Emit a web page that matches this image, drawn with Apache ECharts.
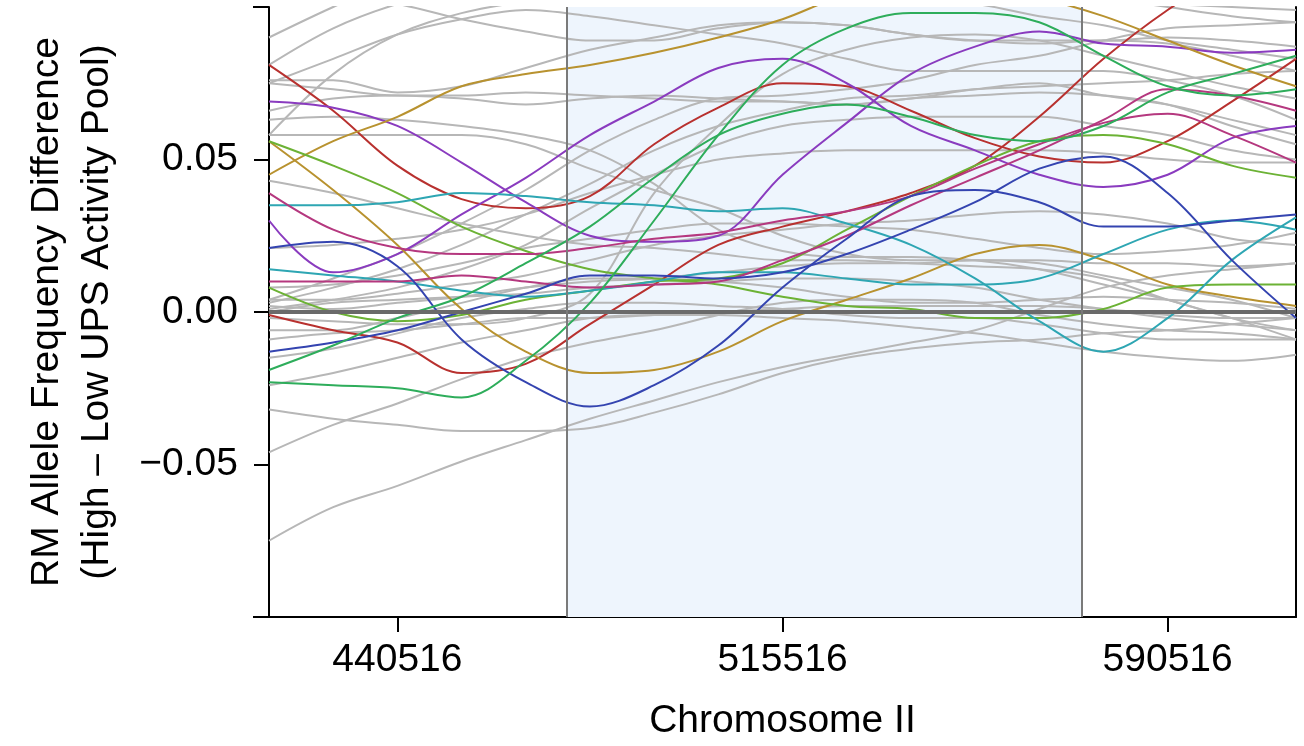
<!DOCTYPE html>
<html><head><meta charset="utf-8">
<script src="https://cdn.jsdelivr.net/npm/echarts@6/dist/echarts.min.js"></script>
<style>html,body{margin:0;padding:0;background:#fff}#c{width:1304px;height:746px}</style>
</head><body><div id="c"></div>
<script>
// Sample positions along Chromosome II (bp)
const positions = [415516, 428016, 440516, 453016, 465516, 478016, 490516, 503016, 515516, 528016, 540516, 553016, 565516, 578016, 590516, 603016, 615516];
const xTicks = [440516, 515516, 590516];
const yTicks = [-0.05, 0, 0.05];
const regionStart = 473549, regionEnd = 573841;

// Highlighted lines
const redA    = [0.081,0.066,0.048,0.037,0.034,0.038,0.055,0.067,0.075,0.074,0.066,0.057,0.051,0.049,0.056,0.069,0.083];
const redB    = [-0.001,-0.006,-0.010,-0.020,-0.017,-0.004,0.009,0.022,0.028,0.033,0.039,0.048,0.064,0.083,0.099,0.112,0.122];
const purpleA = [0.069,0.067,0.061,0.049,0.036,0.025,0.023,0.025,0.045,0.062,0.078,0.087,0.092,0.088,0.087,0.085,0.086];
const purpleB = [0.030,0.013,0.019,0.032,0.044,0.058,0.069,0.080,0.083,0.075,0.061,0.053,0.045,0.041,0.045,0.057,0.061];
const goldA   = [0.045,0.056,0.064,0.074,0.078,0.081,0.085,0.090,0.096,0.104,0.107,0.107,0.103,0.097,0.089,0.081,0.074];
const goldB   = [0.056,0.040,0.022,0.001,-0.013,-0.020,-0.019,-0.013,-0.003,0.004,0.011,0.019,0.022,0.017,0.009,0.005,0.002];
const limeA   = [0.056,0.048,0.039,0.028,0.020,0.014,0.011,0.009,0.005,0.002,0.001,-0.002,-0.002,0.001,0.008,0.009,0.009];
const limeB   = [0.008,0.000,-0.003,-0.001,0.004,0.007,0.010,0.011,0.016,0.027,0.038,0.048,0.056,0.058,0.055,0.048,0.044];
const tealA   = [0.035,0.035,0.036,0.039,0.038,0.036,0.035,0.033,0.034,0.029,0.022,0.011,-0.003,-0.013,-0.002,0.017,0.031];
const tealB   = [0.014,0.012,0.010,0.007,0.005,0.007,0.010,0.013,0.013,0.011,0.009,0.009,0.011,0.019,0.027,0.030,0.027];
const magentaA= [0.039,0.027,0.021,0.019,0.019,0.021,0.024,0.026,0.030,0.033,0.038,0.047,0.055,0.062,0.065,0.058,0.049];
const magentaB= [0.010,0.010,0.010,0.012,0.010,0.008,0.009,0.010,0.017,0.025,0.035,0.044,0.053,0.063,0.073,0.071,0.066];
const blueA   = [0.021,0.023,0.015,-0.009,-0.023,-0.031,-0.024,-0.011,0.008,0.024,0.038,0.040,0.036,0.028,0.028,0.030,0.032];
const blueB   = [-0.013,-0.010,-0.006,0.000,0.006,0.012,0.012,0.011,0.013,0.019,0.027,0.036,0.047,0.051,0.039,0.017,-0.002];
const greenA  = [-0.019,-0.011,-0.002,0.005,0.016,0.028,0.044,0.058,0.065,0.068,0.064,0.058,0.056,0.061,0.072,0.078,0.084];
const greenB  = [-0.023,-0.024,-0.025,-0.028,-0.016,0.003,0.030,0.058,0.081,0.093,0.098,0.098,0.095,0.084,0.074,0.071,0.073];

// Background (grey) lines
const grey01 = [0.090,0.100,0.109,0.115,0.117,0.117,0.115,0.114,0.112,0.110,0.109,0.107,0.106,0.103,0.100,0.097,0.095];
const grey02 = [0.058,0.078,0.091,0.098,0.102,0.106,0.107,0.107,0.106,0.104,0.102,0.101,0.097,0.094,0.089,0.086,0.083];
const grey03 = [0.075,0.083,0.091,0.096,0.099,0.097,0.094,0.091,0.088,0.083,0.079,0.079,0.079,0.079,0.076,0.071,0.063];
const grey04 = [0.076,0.076,0.072,0.074,0.080,0.086,0.090,0.094,0.095,0.094,0.091,0.089,0.089,0.089,0.090,0.089,0.087];
const grey05 = [0.075,0.073,0.071,0.071,0.072,0.071,0.070,0.069,0.069,0.068,0.070,0.071,0.072,0.071,0.068,0.061,0.055];
const grey06 = [0.058,0.058,0.058,0.058,0.055,0.047,0.040,0.034,0.025,0.019,0.017,0.017,0.016,0.012,0.008,0.004,-0.002];
const grey07 = [0.043,0.039,0.034,0.029,0.025,0.022,0.021,0.019,0.017,0.017,0.016,0.015,0.014,0.011,0.004,-0.002,-0.009];
const grey08 = [0.004,0.011,0.019,0.029,0.040,0.053,0.063,0.070,0.071,0.073,0.076,0.081,0.084,0.089,0.093,0.094,0.095];
const grey09 = [0.003,0.008,0.014,0.022,0.032,0.042,0.053,0.061,0.066,0.070,0.071,0.073,0.074,0.075,0.076,0.078,0.079];
const grey10 = [0.001,0.004,0.008,0.014,0.022,0.034,0.045,0.055,0.061,0.063,0.064,0.064,0.064,0.061,0.058,0.053,0.050];
const grey11 = [0.004,0.004,0.006,0.009,0.012,0.017,0.022,0.025,0.027,0.029,0.030,0.032,0.033,0.032,0.029,0.024,0.022];
const grey12 = [0.002,0.001,0.003,0.005,0.008,0.010,0.011,0.013,0.015,0.016,0.016,0.017,0.017,0.016,0.016,0.015,0.016];
const grey13 = [0.000,0.003,0.004,0.005,0.006,0.008,0.009,0.010,0.011,0.011,0.010,0.008,0.004,0.001,-0.002,-0.004,-0.006];
const grey14 = [-0.006,-0.006,-0.002,0.003,0.008,0.011,0.011,0.010,0.008,0.005,0.003,0.003,0.004,0.005,0.004,0.003,0.001];
const grey15 = [-0.009,-0.007,-0.006,-0.004,-0.002,-0.002,-0.001,0.000,0.001,0.002,0.002,0.002,0.002,0.001,-0.001,-0.002,-0.002];
const grey16 = [-0.015,-0.012,-0.007,-0.002,0.001,0.003,0.003,0.002,0.001,-0.001,-0.002,-0.002,-0.004,-0.007,-0.009,-0.009,-0.009];
const grey17 = [-0.024,-0.020,-0.015,-0.010,-0.006,-0.002,-0.001,-0.001,-0.002,-0.003,-0.005,-0.007,-0.010,-0.013,-0.015,-0.016,-0.014];
const grey18 = [-0.032,-0.035,-0.037,-0.039,-0.039,-0.038,-0.033,-0.027,-0.020,-0.015,-0.012,-0.010,-0.009,-0.007,-0.006,-0.004,-0.002];
const grey19 = [-0.046,-0.037,-0.030,-0.022,-0.015,-0.010,-0.006,-0.001,0.003,0.004,0.004,0.003,-0.001,-0.004,-0.006,-0.007,-0.009];
const grey20 = [-0.075,-0.064,-0.057,-0.049,-0.042,-0.035,-0.029,-0.023,-0.018,-0.014,-0.010,-0.006,0.001,0.008,0.012,0.014,0.016];
const grey21 = [0.106,0.104,0.101,0.096,0.092,0.089,0.089,0.093,0.095,0.094,0.091,0.089,0.088,0.089,0.088,0.084,0.079];
const grey22 = [0.066,0.070,0.071,0.070,0.068,0.070,0.071,0.070,0.069,0.068,0.070,0.073,0.075,0.071,0.068,0.063,0.058];
const grey23 = [0.021,0.022,0.024,0.027,0.032,0.039,0.045,0.050,0.052,0.053,0.053,0.053,0.053,0.052,0.050,0.049,0.049];
const grey24 = [0.008,0.009,0.012,0.016,0.021,0.024,0.027,0.029,0.029,0.028,0.027,0.024,0.021,0.019,0.020,0.022,0.026];
const grey25 = [0.063,0.064,0.063,0.061,0.058,0.053,0.042,0.027,0.020,0.018,0.018,0.017,0.014,0.009,0.004,-0.002,-0.006];
const grey26 = [-0.002,-0.003,-0.004,-0.004,-0.002,0.006,0.039,0.061,0.078,0.086,0.090,0.091,0.089,0.084,0.079,0.074,0.070];
const grey27 = [0.081,0.093,0.101,0.106,0.108,0.109,0.109,0.108,0.107,0.106,0.105,0.104,0.103,0.102,0.101,0.100,0.099];

const greyLines = [grey01,grey02,grey03,grey04,grey05,grey06,grey07,grey08,grey09,grey10,grey11,grey12,grey13,grey14,grey15,grey16,grey17,grey18,grey19,grey20,grey21,grey22,grey23,grey24,grey25,grey26,grey27];
const colourLines = [
  [redA,'#B8312F'],[redB,'#B8312F'],
  [purpleA,'#8A3BBF'],[purpleB,'#8A3BBF'],
  [goldA,'#B8922F'],[goldB,'#B8922F'],
  [limeA,'#6CB235'],[limeB,'#6CB235'],
  [tealA,'#2EA6B3'],[tealB,'#2EA6B3'],
  [magentaA,'#B5387F'],[magentaB,'#B5387F'],
  [blueA,'#3444B0'],[blueB,'#3444B0'],
  [greenA,'#2EAD5B'],[greenB,'#2EAD5B']
];

const FONT = 'Liberation Sans, Arial, Helvetica, sans-serif';
const FS = 39;
const pair = arr => arr.map((v,i)=>[positions[i], v]);

const series = [];
// shaded region (behind everything)
series.push({
  type:'line', data:[], silent:true, z:1,
  markArea:{silent:true, itemStyle:{color:'#EEF5FD'}, data:[[{xAxis:regionStart},{xAxis:regionEnd}]]}
});
greyLines.forEach(g => series.push({
  type:'line', data:pair(g), smooth:0.35, symbol:'none', z:2,
  lineStyle:{color:'#B7B7B7', width:2}, silent:true
}));
series.push({
  type:'line', data:[], silent:true, z:3,
  markLine:{silent:true, symbol:'none', label:{show:false},
    data:[
      {yAxis:0, lineStyle:{color:'#6A6A6A', width:4, type:'solid'}},
      {xAxis:regionStart, lineStyle:{color:'#7A7A7A', width:2, type:'solid'}},
      {xAxis:regionEnd, lineStyle:{color:'#7A7A7A', width:2, type:'solid'}}
    ]}
});
colourLines.forEach(([d,c]) => series.push({
  type:'line', data:pair(d), smooth:0.35, symbol:'none', z:4,
  lineStyle:{color:c, width:2}, silent:true
}));

const chart = echarts.init(document.getElementById('c'), null, {renderer:'canvas'});
const fmtY = v => (v < 0 ? '\u2212' : '') + Math.abs(v).toFixed(2);
chart.setOption({
  animation:false,
  grid:{left:269, right:8, top:7, bottom:128, containLabel:false},
  xAxis:[{
    type:'value', min:positions[0], max:positions[positions.length-1],
    name:'Chromosome II', nameLocation:'middle', nameGap:85,
    nameTextStyle:{fontFamily:FONT, fontSize:FS, color:'#000'},
    axisLine:{show:true, onZero:false, lineStyle:{color:'#000', width:2}},
    axisTick:{show:true, length:15, inside:false, customValues:xTicks, lineStyle:{color:'#000', width:2}},
    axisLabel:{customValues:xTicks, margin:24, fontFamily:FONT, fontSize:FS, color:'#000', formatter:v=>String(v)},
    splitLine:{show:false}
  },{
    type:'value', position:'top', min:positions[0], max:positions[positions.length-1],
    axisLine:{show:true, lineStyle:{color:'#000', width:2}},
    axisTick:{show:false}, axisLabel:{show:false}, splitLine:{show:false}
  }],
  yAxis:[{
    type:'value', min:-0.1, max:0.1,
    name:'RM Allele Frequency Difference\n(High \u2013 Low UPS Activity Pool)',
    nameLocation:'middle', nameRotate:90, nameGap:147,
    nameTextStyle:{fontFamily:FONT, fontSize:FS, color:'#000', lineHeight:50, align:'center'},
    axisLine:{show:true, onZero:false, lineStyle:{color:'#000', width:2}},
    axisTick:{show:true, length:15, customValues:yTicks, lineStyle:{color:'#000', width:2}},
    axisLabel:{customValues:yTicks, margin:31, fontFamily:FONT, fontSize:FS, color:'#000', formatter:fmtY},
    splitLine:{show:false}
  },{
    type:'value', position:'right', min:-0.1, max:0.1,
    axisLine:{show:true, onZero:false, lineStyle:{color:'#000', width:2}},
    axisTick:{show:false}, axisLabel:{show:false}, splitLine:{show:false}
  }],
  series: series
});

// short extensions of the top and bottom frame lines to the left of the y axis
const pTop = chart.convertToPixel({xAxisIndex:0, yAxisIndex:0}, [positions[0], 0.1]);
const pBot = chart.convertToPixel({xAxisIndex:0, yAxisIndex:0}, [positions[0], -0.1]);
chart.setOption({graphic:[
  {type:'line', shape:{x1:pTop[0]-16, y1:pTop[1], x2:pTop[0], y2:pTop[1]}, style:{stroke:'#000', lineWidth:2}},
  {type:'line', shape:{x1:pBot[0]-16, y1:pBot[1], x2:pBot[0], y2:pBot[1]}, style:{stroke:'#000', lineWidth:2}}
]});
</script></body></html>
